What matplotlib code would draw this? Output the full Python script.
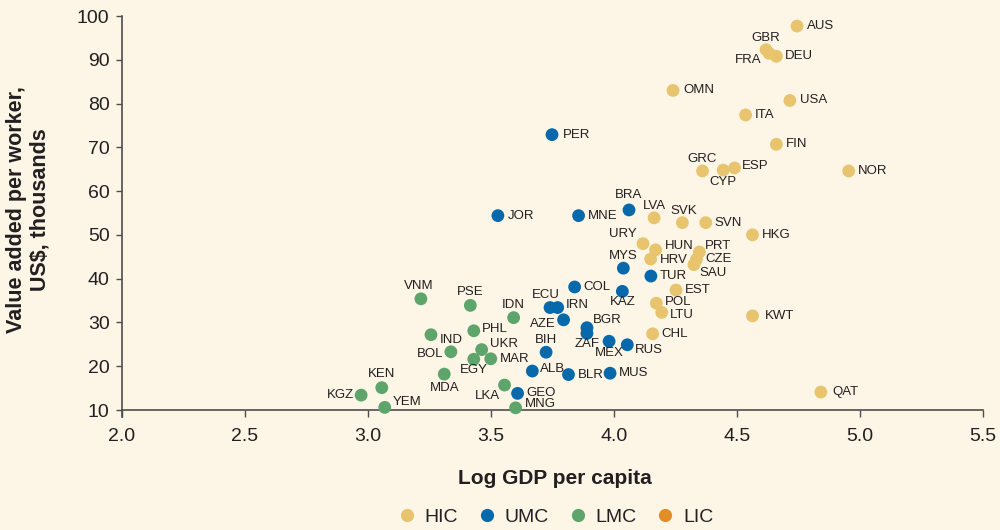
import matplotlib.pyplot as plt
from matplotlib.lines import Line2D

plt.rcParams['font.family'] = ['Liberation Sans', 'DejaVu Sans']

# Data: country, log GDP per capita, value added per worker (US$ thousands), income group
countries = ['AUS', 'GBR', 'FRA', 'DEU', 'OMN', 'USA', 'ITA', 'FIN', 'GRC', 'CYP',
             'ESP', 'NOR', 'LVA', 'SVK', 'SVN', 'HKG', 'URY', 'HUN', 'PRT', 'HRV',
             'CZE', 'SAU', 'EST', 'POL', 'LTU', 'CHL', 'KWT', 'QAT',
             'PER', 'BRA', 'JOR', 'MNE', 'MYS', 'TUR', 'COL', 'KAZ', 'ECU', 'IRN',
             'AZE', 'BGR', 'ZAF', 'MEX', 'RUS', 'BIH', 'ALB', 'BLR', 'MUS', 'GEO',
             'VNM', 'PSE', 'IDN', 'IND', 'PHL', 'UKR', 'BOL', 'EGY', 'MAR', 'MDA',
             'LKA', 'MNG', 'KEN', 'KGZ', 'YEM']
log_gdp = [4.744, 4.618, 4.63, 4.66, 4.24, 4.715, 4.535, 4.66, 4.36, 4.444,
           4.49, 4.954, 4.163, 4.278, 4.373, 4.563, 4.118, 4.169, 4.347, 4.149,
           4.335, 4.325, 4.252, 4.172, 4.194, 4.157, 4.563, 4.841,
           3.748, 4.061, 3.528, 3.856, 4.038, 4.15, 3.84, 4.034, 3.74, 3.771,
           3.795, 3.89, 3.89, 3.98, 4.054, 3.724, 3.668, 3.815, 3.984, 3.608,
           3.215, 3.416, 3.592, 3.256, 3.43, 3.462, 3.337, 3.43, 3.499, 3.31,
           3.555, 3.6, 3.056, 2.972, 3.068]
value_added = [97.7, 92.3, 91.5, 90.8, 83.0, 80.7, 77.4, 70.7, 64.6, 64.8,
               65.3, 64.6, 53.9, 52.8, 52.8, 50.0, 48.0, 46.6, 46.1, 44.5,
               44.4, 43.2, 37.4, 34.4, 32.3, 27.4, 31.5, 14.1,
               72.9, 55.7, 54.4, 54.4, 42.4, 40.6, 38.1, 37.1, 33.4, 33.4,
               30.6, 28.8, 27.5, 25.7, 24.9, 23.2, 18.9, 18.1, 18.4, 13.8,
               35.4, 33.9, 31.1, 27.2, 28.1, 23.8, 23.3, 21.6, 21.7, 18.2,
               15.7, 10.5, 15.1, 13.4, 10.6]
income_group = ['HIC'] * 28 + ['UMC'] * 20 + ['LMC'] * 15

groups = ['HIC', 'UMC', 'LMC', 'LIC']
group_colors = {'HIC': '#E8C46E', 'UMC': '#0868AC', 'LMC': '#5EA56B', 'LIC': '#E38D27'}

# label placement: (dx, dy) in pixels, horizontal alignment
default_place = (9, 0, 'left')
label_place = {
    'GBR': (0, 12, 'center'), 'FRA': (-7, -7, 'right'), 'ESP': (7, 2, 'left'),
    'GRC': (0, 12, 'center'), 'CYP': (0, -12, 'center'), 'BRA': (0, 15, 'center'),
    'LVA': (0, 12, 'center'), 'SVK': (1, 12, 'center'), 'URY': (-6, 10, 'right'),
    'HUN': (9, 4, 'left'), 'PRT': (6, 6, 'left'), 'HRV': (9, -1, 'left'),
    'SAU': (5, -8, 'left'), 'MYS': (0, 12, 'center'), 'KAZ': (0, -11, 'center'),
    'VNM': (-2, 13, 'center'), 'PSE': (0, 13, 'center'), 'IDN': (0, 13, 'center'),
    'ECU': (-4, 13, 'center'), 'IRN': (8, 3, 'left'), 'AZE': (-8, -4, 'right'),
    'BGR': (6, 8, 'left'), 'ZAF': (0, -11, 'center'), 'MEX': (0, -12, 'center'),
    'RUS': (8, -5, 'left'), 'POL': (9, 1, 'left'), 'LTU': (8, -3, 'left'),
    'IND': (9, -5, 'left'), 'PHL': (8, 2, 'left'), 'UKR': (8, 6, 'left'),
    'BOL': (-8, -2, 'right'), 'EGY': (0, -11, 'center'), 'BIH': (0, 12, 'center'),
    'ALB': (8, 2, 'left'), 'MDA': (0, -14, 'center'), 'LKA': (-5, -11, 'right'),
    'MNG': (9, 4, 'left'), 'YEM': (8, 5, 'left'), 'KEN': (0, 14, 'center'),
    'KGZ': (-7, 0, 'right'), 'KWT': (12, 0, 'left'), 'QAT': (11, 0, 'left'),
    'AUS': (10, 0, 'left'), 'OMN': (10, 0, 'left'), 'USA': (10, 0, 'left'),
    'FIN': (10, 0, 'left'), 'PER': (11, 0, 'left'), 'JOR': (10, 0, 'left'),
}

bg = '#FDF6E6'
text_color = '#231F20'

fig = plt.figure(figsize=(10, 5.3), dpi=100, facecolor=bg)
ax = fig.add_axes([0.122, 0.2264, 0.861, 0.7434], facecolor=bg)

for g in ['HIC', 'UMC', 'LMC']:
    xs = [x for x, gg in zip(log_gdp, income_group) if gg == g]
    ys = [y for y, gg in zip(value_added, income_group) if gg == g]
    ax.scatter(xs, ys, s=85, color=group_colors[g], edgecolors='none',
               clip_on=False, zorder=3)

for c, x, y in zip(countries, log_gdp, value_added):
    dx, dy, ha = label_place.get(c, default_place)
    ax.annotate(c, (x, y), xytext=(dx, dy), textcoords='offset pixels',
                ha=ha, va='center', fontsize=9.5, color=text_color, zorder=4)

ax.set_xlim(2.0, 5.5)
ax.set_ylim(10, 100)
ax.set_xticks([2.0, 2.5, 3.0, 3.5, 4.0, 4.5, 5.0, 5.5])
ax.set_xticklabels(['2.0', '2.5', '3.0', '3.5', '4.0', '4.5', '5.0', '5.5'])
ax.set_yticks(range(10, 101, 10))

for side in ['top', 'right']:
    ax.spines[side].set_visible(False)
for side in ['left', 'bottom']:
    ax.spines[side].set_color('#4D4D4D')
    ax.spines[side].set_linewidth(1.2)
ax.spines['left'].set_bounds(8.5, 100)
ax.tick_params(axis='both', colors='#4D4D4D', labelcolor=text_color,
               labelsize=14, width=1.0)
ax.tick_params(axis='y', length=4, pad=5)
ax.tick_params(axis='x', length=5, pad=8)

fig.text(0.0285, 0.604, 'Value added per worker,\nUS$, thousands', rotation=90,
         ha='center', va='center', multialignment='center', fontsize=15.5,
         fontweight='bold', color=text_color, linespacing=1.15)
fig.text(0.5545, 0.098, 'Log GDP per capita', ha='center', va='center',
         fontsize=15, fontweight='bold', color=text_color)

handles = [Line2D([], [], marker='o', linestyle='none', markersize=9.5,
                  markerfacecolor=group_colors[g], markeredgecolor='none')
           for g in groups]
fig.legend(handles, groups, loc='center', bbox_to_anchor=(0.555, 0.024),
           ncol=4, frameon=False, fontsize=14, handlelength=1.0,
           handletextpad=0.4, columnspacing=1.0, labelcolor=text_color,
           borderaxespad=0, borderpad=0)

fig.savefig('out.png', dpi=100, facecolor=bg)
